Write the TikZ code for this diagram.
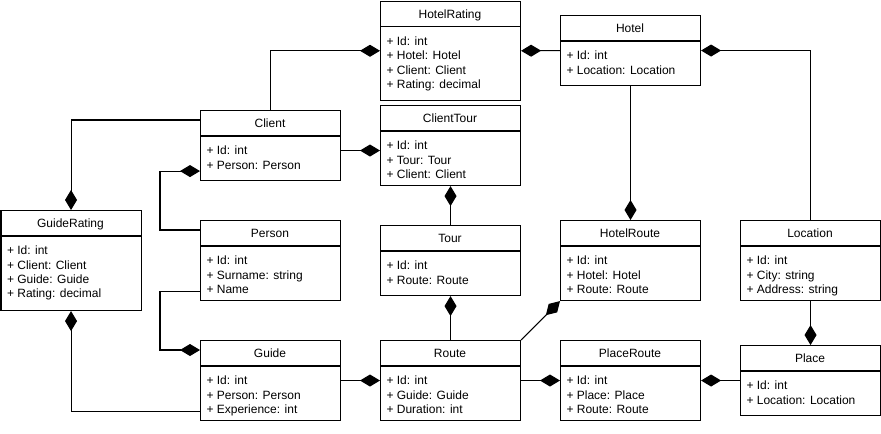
\documentclass[tikz,border=0pt]{standalone}
\usepackage{fontspec}
\setmainfont{Liberation Sans}
\usetikzlibrary{arrows.meta,calc}
\begin{document}
\begin{tikzpicture}[x=0.75pt,y=-0.75pt,line width=0.8pt,
  cls/.style={draw, inner sep=0, anchor=north west, minimum width=105pt},
  ttl/.style={anchor=base, font=\fontsize{9}{10.75}\selectfont},
  attr/.style={anchor=north west, inner sep=0, align=left, font=\fontsize{9}{10.75}\selectfont},
  comp/.style={-{Diamond[length=15pt,width=9pt]}}]
\useasboundingbox (0,0) rectangle (881,433);
% classes
\node[cls, minimum height=75pt] (guiderating) at (0.5,210) {};
\draw (0.5,236)--(140.5,236);
\node[ttl] (guiderating-t) at (70.5,227.8) {GuideRating};
\node[attr] (guiderating-a) at (6.5,245.7) {+ Id: int\\+ Client: Client\\+ Guide: Guide\\+ Rating: decimal};
\node[cls, minimum height=52.5pt] (client) at (200,110) {};
\draw (200,136)--(340,136);
\node[ttl] (client-t) at (270,127.8) {Client};
\node[attr] (client-a) at (206,145.7) {+ Id: int\\+ Person: Person};
\node[cls, minimum height=74.6pt] (hotelrating) at (380,0.5) {};
\draw (380,26.5)--(520,26.5);
\node[ttl] (hotelrating-t) at (450,18.3) {HotelRating};
\node[attr] (hotelrating-a) at (386,36.2) {+ Id: int\\+ Hotel: Hotel\\+ Client: Client\\+ Rating: decimal};
\node[cls, minimum height=60pt] (clienttour) at (380,105) {};
\draw (380,131)--(520,131);
\node[ttl] (clienttour-t) at (450,122.8) {ClientTour};
\node[attr] (clienttour-a) at (386,140.7) {+ Id: int\\+ Tour: Tour\\+ Client: Client};
\node[cls, minimum height=52.5pt] (hotel) at (560,15) {};
\draw (560,41)--(700,41);
\node[ttl] (hotel-t) at (630,32.8) {Hotel};
\node[attr] (hotel-a) at (566,50.7) {+ Id: int\\+ Location: Location};
\node[cls, minimum height=60pt] (person) at (200,220) {};
\draw (200,246)--(340,246);
\node[ttl] (person-t) at (270,237.8) {Person};
\node[attr] (person-a) at (206,255.7) {+ Id: int\\+ Surname: string\\+ Name};
\node[cls, minimum height=52.5pt] (tour) at (380,225) {};
\draw (380,251)--(520,251);
\node[ttl] (tour-t) at (450,242.8) {Tour};
\node[attr] (tour-a) at (386,260.7) {+ Id: int\\+ Route: Route};
\node[cls, minimum height=60pt] (hotelroute) at (560,220) {};
\draw (560,246)--(700,246);
\node[ttl] (hotelroute-t) at (630,237.8) {HotelRoute};
\node[attr] (hotelroute-a) at (566,255.7) {+ Id: int\\+ Hotel: Hotel\\+ Route: Route};
\node[cls, minimum height=60pt] (location) at (740,220) {};
\draw (740,246)--(880,246);
\node[ttl] (location-t) at (810,237.8) {Location};
\node[attr] (location-a) at (746,255.7) {+ Id: int\\+ City: string\\+ Address: string};
\node[cls, minimum height=60pt] (guide) at (200,340) {};
\draw (200,366)--(340,366);
\node[ttl] (guide-t) at (270,357.8) {Guide};
\node[attr] (guide-a) at (206,375.7) {+ Id: int\\+ Person: Person\\+ Experience: int};
\node[cls, minimum height=60pt] (route) at (380,340) {};
\draw (380,366)--(520,366);
\node[ttl] (route-t) at (450,357.8) {Route};
\node[attr] (route-a) at (386,375.7) {+ Id: int\\+ Guide: Guide\\+ Duration: int};
\node[cls, minimum height=60pt] (placeroute) at (560,340) {};
\draw (560,366)--(700,366);
\node[ttl] (placeroute-t) at (630,357.8) {PlaceRoute};
\node[attr] (placeroute-a) at (566,375.7) {+ Id: int\\+ Place: Place\\+ Route: Route};
\node[cls, minimum height=52.5pt] (place) at (740,345) {};
\draw (740,371)--(880,371);
\node[ttl] (place-t) at (810,362.8) {Place};
\node[attr] (place-a) at (746,380.7) {+ Id: int\\+ Location: Location};
% compositions
\draw[comp] (client.north) |- (hotelrating.west);
\draw[comp] (hotel.west) -- (hotelrating.east);
\draw[comp] (location.north) |- (hotel.east);
\draw[comp] (hotel.south) -- (hotelroute.north);
\draw[comp] ($(client.north west)+(0,10)$) -| (guiderating.north);
\draw[comp] ($(person.north west)+(0,10)$) -- ++(-40,0) |- ($(client.south west)+(0,-10)$);
\draw[comp] ($(client.east)+(0,5)$) -- ($(clienttour.west)+(0,5)$);
\draw[comp] (tour.north) -- (clienttour.south);
\draw[comp] (route.north) -- (tour.south);
\draw[comp] (route.north east) -- (hotelroute.south west);
\draw[comp] ($(person.south west)+(0,-10)$) -- ++(-40,0) |- ($(guide.north west)+(0,10)$);
\draw[comp] ($(guide.south west)+(0,-10)$) -| (guiderating.south);
\draw[comp] (guide.east) -- (route.west);
\draw[comp] (route.east) -- (placeroute.west);
\draw[comp] (place.west) -- (placeroute.east);
\draw[comp] (location.south) -- (place.north);
\end{tikzpicture}
\end{document}
